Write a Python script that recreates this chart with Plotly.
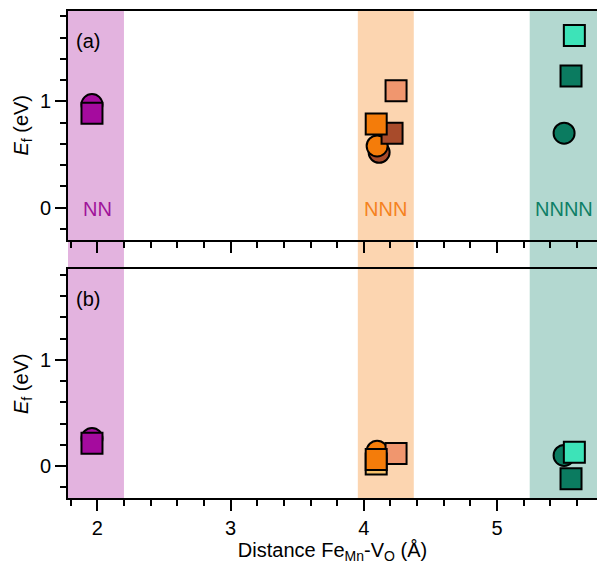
import plotly.graph_objects as go
from plotly.subplots import make_subplots

# Formation energies of Fe_Mn–V_O pairs vs. distance, two conditions (a) and (b)
names = ["NN circle", "NN square", "NNN circle (brown)", "NNN circle (orange)",
         "NNN square (salmon)", "NNN square (brown)", "NNN square (light)",
         "NNN square (orange)", "NNNN circle", "NNNN square (dark)", "NNNN square (light)"]
symbols = ["circle", "square", "circle", "circle", "square", "square", "square",
           "square", "circle", "square", "square"]
colors = ["#A50B9E", "#A50B9E", "#A84B2B", "#F47C0A", "#F0966E", "#A84B2B", "#F7C16A",
          "#F47C0A", "#0B7B60", "#0B7B60", "#3DE3B8"]
distance = [1.96, 1.96, 4.115, 4.10, 4.242, 4.212, 4.093, 4.093, 5.503, 5.555, 5.58]
energy_a = [0.97, 0.887, 0.52, 0.58, 1.10, 0.70, None, 0.786, 0.70, 1.238, 1.62]
energy_b = [0.26, 0.215, None, 0.14, 0.118, None, 0.02, 0.062, 0.10, -0.12, 0.13]

# Neighbour shells shown as shaded bands
shell_labels = ["NN", "NNN", "NNNN"]
shell_x0 = [1.78, 3.955, 5.245]
shell_x1 = [2.2, 4.375, 5.75]
shell_label_x = [2.0, 4.16, 5.5]
shell_fill = ["#E3B3DF", "#FCD5B0", "#B3D8D0"]
shell_text = ["#A0149A", "#F5821F", "#0E7F66"]

x_range = [1.78, 5.75]
y_range = [-0.3, 1.85]
font_family = "Liberation Sans"
fs = 20

fig = make_subplots(rows=2, cols=1, shared_xaxes=False, vertical_spacing=0.0616)

for row, energies in ((1, energy_a), (2, energy_b)):
    for name, sym, col, xv, yv in zip(names, symbols, colors, distance, energies):
        if yv is None:
            continue
        fig.add_trace(go.Scatter(
            x=[xv], y=[yv], mode="markers", name=name, showlegend=False,
            marker=dict(symbol=sym, size=21, color=col,
                        line=dict(color="black", width=2)),
        ), row=row, col=1)

for x0, x1, fc in zip(shell_x0, shell_x1, shell_fill):
    fig.add_shape(type="rect", xref="x", yref="paper", x0=x0, x1=x1, y0=0, y1=1,
                  fillcolor=fc, line=dict(width=0), layer="below")

for lab, lx, tc in zip(shell_labels, shell_label_x, shell_text):
    fig.add_annotation(text=lab, x=lx, xref="x", y=0.075, yref="y domain",
                       showarrow=False, font=dict(size=fs, color=tc, family=font_family))

fig.add_annotation(text="(a)", x=0.011, xref="x domain", y=0.925, yref="y domain",
                   xanchor="left", showarrow=False,
                   font=dict(size=fs, color="black", family=font_family))
fig.add_annotation(text="(b)", x=0.011, xref="x2 domain", y=0.926, yref="y2 domain",
                   xanchor="left", showarrow=False,
                   font=dict(size=fs, color="black", family=font_family))

axis_common = dict(showgrid=False, zeroline=False, showline=True, linecolor="black",
                   linewidth=2, ticks="outside", tickwidth=2, ticklen=11,
                   tickcolor="black", tickfont=dict(size=fs, color="black", family=font_family))

for r in (1, 2):
    fig.update_xaxes(range=x_range, dtick=1, tick0=0, mirror=True,
                     minor=dict(dtick=0.2, tick0=0, ticks="outside", ticklen=6,
                                tickwidth=1.5, tickcolor="black"),
                     showticklabels=(r == 2), row=r, col=1, **axis_common)
    fig.update_yaxes(range=y_range, tickvals=[0, 1], ticktext=["0", "1"],
                     minor=dict(dtick=0.2, tick0=0, ticks="outside", ticklen=6,
                                tickwidth=1.5, tickcolor="black"),
                     title=dict(text="<i>E</i><sub>f</sub> (eV)", standoff=6,
                                font=dict(size=fs, color="black", family=font_family)),
                     row=r, col=1, **axis_common)

fig.update_xaxes(title=dict(text="Distance Fe<sub>Mn</sub>-V<sub>O</sub> (Å)", standoff=10,
                            font=dict(size=fs, color="black", family=font_family)),
                 row=2, col=1)

fig.update_layout(width=597, height=564, margin=dict(l=68, r=0, t=11, b=66),
                  plot_bgcolor="white", paper_bgcolor="white",
                  font=dict(family=font_family, color="black"))

fig.write_html("out.html")
